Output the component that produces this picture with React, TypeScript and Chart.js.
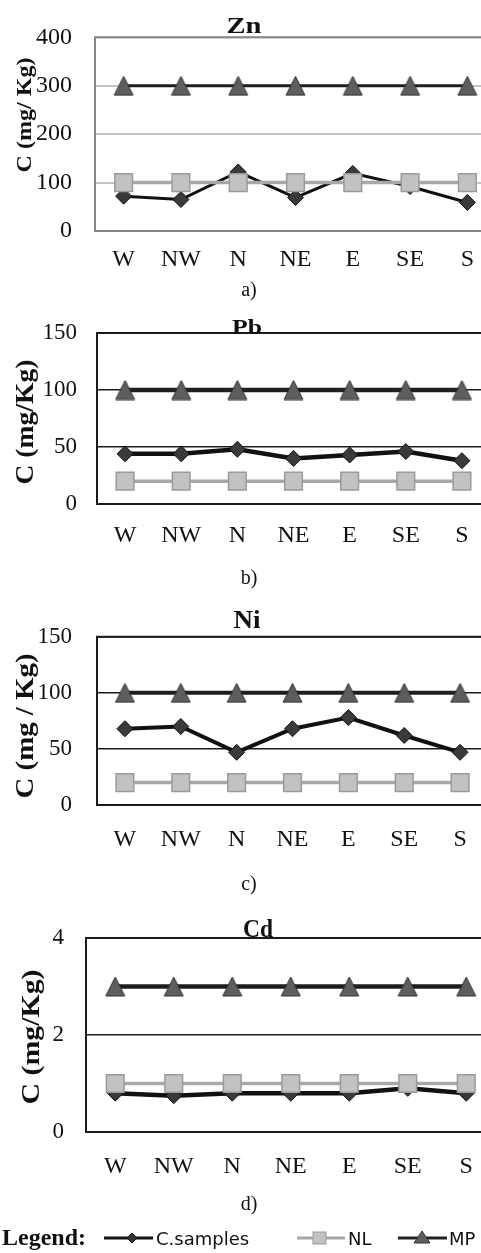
import React, { useEffect, useRef } from "react";
import { Chart, registerables } from "chart.js";

Chart.register(...registerables);

// ---------- data ----------
const directions = ["W", "NW", "N", "NE", "E", "SE", "S"];
const seriesNames = ["C.samples", "NL", "MP"];

const znSamples = [72, 65, 122, 69, 119, 92, 59];
const znNL = [100, 100, 100, 100, 100, 100, 100];
const znMP = [300, 300, 300, 300, 300, 300, 300];
const znTicks = [0, 100, 200, 300, 400];

const pbSamples = [44, 44, 48, 40, 43, 46, 38];
const pbNL = [20, 20, 20, 20, 20, 20, 20];
const pbMP = [100, 100, 100, 100, 100, 100, 100];
const pbTicks = [0, 50, 100, 150];

const niSamples = [68, 70, 47, 68, 78, 62, 47];
const niNL = [20, 20, 20, 20, 20, 20, 20];
const niMP = [100, 100, 100, 100, 100, 100, 100];
const niTicks = [0, 50, 100, 150];

const cdSamples = [0.8, 0.75, 0.8, 0.8, 0.8, 0.9, 0.8];
const cdNL = [1, 1, 1, 1, 1, 1, 1];
const cdMP = [3, 3, 3, 3, 3, 3, 3];
const cdTicks = [0, 2, 4];

// ---------- layout / style ----------
const CANVAS_W = 510;
const SERIF = '"Liberation Serif", "Times New Roman", serif';

type Panel = {
  title: string;
  yTitle: string;
  samples: number[];
  nl: number[];
  mp: number[];
  ticks: number[];
  canvasTop: number;
  canvasHeight: number;
  area: { left: number; top: number; right: number; bottom: number };
  gridColor: string;
  gridWidth: number;
  frameColor: string;
  lineW: number;
  tickSize: number;
  yPad: number;
  xPad: number;
  titleX: number;
  titleBase: number;
  titleSize: number;
  titleWidth: number;
  yTitleX: number;
  yTitleY: number;
  yTitleLen: number;
  yTitleSize: number;
};

const panels: Panel[] = [
  {
    title: "Zn", yTitle: "C (mg/ Kg)", samples: znSamples, nl: znNL, mp: znMP, ticks: znTicks,
    canvasTop: 0, canvasHeight: 278,
    area: { left: 95, top: 34, right: 500, bottom: 231 },
    gridColor: "#c4c4c4", gridWidth: 2, frameColor: "#858585", lineW: 3,
    tickSize: 24, yPad: 23, xPad: 15,
    titleX: 244, titleBase: 33, titleSize: 23, titleWidth: 35,
    yTitleX: 25, yTitleY: 115, yTitleLen: 115, yTitleSize: 22,
  },
  {
    title: "Pb", yTitle: "C (mg/Kg)", samples: pbSamples, nl: pbNL, mp: pbMP, ticks: pbTicks,
    canvasTop: 295, canvasHeight: 262,
    area: { left: 97, top: 333, right: 490, bottom: 504 },
    gridColor: "#1a1a1a", gridWidth: 1.5, frameColor: "#1a1a1a", lineW: 4.5,
    tickSize: 23, yPad: 20, xPad: 18,
    titleX: 247, titleBase: 334, titleSize: 21, titleWidth: 30,
    yTitleX: 27, yTitleY: 422, yTitleLen: 125, yTitleSize: 25,
  },
  {
    title: "Ni", yTitle: "C (mg / Kg)", samples: niSamples, nl: niNL, mp: niMP, ticks: niTicks,
    canvasTop: 598, canvasHeight: 267,
    area: { left: 97, top: 630, right: 488, bottom: 805 },
    gridColor: "#1a1a1a", gridWidth: 1.5, frameColor: "#1a1a1a", lineW: 4,
    tickSize: 23, yPad: 25, xPad: 21,
    titleX: 247, titleBase: 628, titleSize: 25, titleWidth: 27,
    yTitleX: 27, yTitleY: 726, yTitleLen: 145, yTitleSize: 25,
  },
  {
    title: "Cd", yTitle: "C (mg/Kg)", samples: cdSamples, nl: cdNL, mp: cdMP, ticks: cdTicks,
    canvasTop: 900, canvasHeight: 292,
    area: { left: 86, top: 938, right: 496, bottom: 1132 },
    gridColor: "#1a1a1a", gridWidth: 1.5, frameColor: "#1a1a1a", lineW: 4.5,
    tickSize: 23, yPad: 22, xPad: 21,
    titleX: 258, titleBase: 937, titleSize: 25, titleWidth: 30,
    yTitleX: 33, yTitleY: 1037, yTitleLen: 135, yTitleSize: 25,
  },
];

const captions = [
  { text: "a)", y: 296 },
  { text: "b)", y: 584 },
  { text: "c)", y: 890 },
  { text: "d)", y: 1210 },
];

function makeTriangle(): HTMLCanvasElement {
  const c = document.createElement("canvas");
  c.width = 21;
  c.height = 21;
  const g = c.getContext("2d")!;
  g.beginPath();
  g.moveTo(10.5, 1);
  g.lineTo(20, 20);
  g.lineTo(1, 20);
  g.closePath();
  g.fillStyle = "#5e5e5e";
  g.fill();
  g.strokeStyle = "#333";
  g.lineWidth = 1;
  g.stroke();
  return c;
}

function decorPlugin(p: Panel) {
  return {
    id: "decor",
    beforeDatasetsDraw(chart: any) {
      const { ctx, chartArea: a } = chart;
      ctx.save();
      ctx.strokeStyle = p.frameColor;
      ctx.lineWidth = 2;
      ctx.strokeRect(a.left, a.top, a.right - a.left, a.bottom - a.top);
      ctx.restore();
    },
    afterDraw(chart: any) {
      const ctx = chart.ctx as CanvasRenderingContext2D;
      ctx.save();
      ctx.fillStyle = "#111";
      // chart title
      ctx.font = `bold ${p.titleSize}px ${SERIF}`;
      ctx.textAlign = "center";
      ctx.textBaseline = "alphabetic";
      const tw = ctx.measureText(p.title).width;
      ctx.save();
      ctx.translate(p.titleX, p.titleBase - p.canvasTop);
      ctx.scale(p.titleWidth / tw, 1);
      ctx.fillText(p.title, 0, 0);
      ctx.restore();
      // y-axis title
      ctx.font = `bold ${p.yTitleSize}px ${SERIF}`;
      ctx.textBaseline = "middle";
      const w = ctx.measureText(p.yTitle).width;
      ctx.translate(p.yTitleX, p.yTitleY - p.canvasTop);
      ctx.rotate(-Math.PI / 2);
      ctx.scale(p.yTitleLen / w, 1);
      ctx.fillText(p.yTitle, 0, 0);
      ctx.restore();
    },
  };
}

function PanelChart({ p }: { p: Panel }) {
  const ref = useRef<HTMLCanvasElement | null>(null);
  useEffect(() => {
    if (!ref.current) return;
    const tri = makeTriangle();
    const a = p.area;
    const chart = new Chart(ref.current, {
      type: "line",
      data: {
        labels: directions,
        datasets: [
          {
            label: seriesNames[0],
            data: p.samples,
            order: 3,
            borderColor: "#111",
            borderWidth: p.lineW,
            pointStyle: "rectRot",
            pointRadius: 8,
            pointBackgroundColor: "#3a3a3a",
            pointBorderColor: "#111",
            pointBorderWidth: 1,
            tension: 0,
          },
          {
            label: seriesNames[1],
            data: p.nl,
            order: 2,
            borderColor: "#a8a8a8",
            borderWidth: 3.5,
            pointStyle: "rect",
            pointRadius: 12.5,
            pointBackgroundColor: "#c2c2c2",
            pointBorderColor: "#9a9a9a",
            pointBorderWidth: 1.5,
            tension: 0,
          },
          {
            label: seriesNames[2],
            data: p.mp,
            order: 1,
            borderColor: "#1e1e1e",
            borderWidth: p.lineW,
            pointStyle: tri as any,
            pointRadius: 10,
            tension: 0,
          },
        ],
      },
      options: {
        responsive: false,
        maintainAspectRatio: false,
        animation: false,
        events: [],
        layout: {
          padding: { left: 0, right: CANVAS_W - a.right, top: a.top - p.canvasTop, bottom: 0 },
        },
        plugins: {
          legend: { display: false },
          tooltip: { enabled: false },
          title: { display: false },
        },
        scales: {
          x: {
            type: "category",
            offset: true,
            grid: { display: false, drawTicks: false },
            border: { display: false },
            ticks: {
              font: { family: SERIF, size: 24 },
              color: "#111",
              padding: p.xPad - 1,
              maxRotation: 0,
              autoSkip: false,
            },
            afterFit: (s: any) => {
              s.height = p.canvasTop + p.canvasHeight - a.bottom;
            },
          },
          y: {
            min: p.ticks[0],
            max: p.ticks[p.ticks.length - 1],
            ticks: {
              stepSize: p.ticks[1] - p.ticks[0],
              font: { family: SERIF, size: p.tickSize },
              color: "#111",
              padding: p.yPad,
            },
            grid: { color: p.gridColor, lineWidth: p.gridWidth, drawTicks: false },
            border: { display: false },
            afterFit: (s: any) => {
              s.width = a.left;
            },
          },
        },
      },
      plugins: [decorPlugin(p)],
    } as any);
    return () => chart.destroy();
  }, [p]);
  return (
    <canvas
      ref={ref}
      width={CANVAS_W}
      height={p.canvasHeight}
      style={{ position: "absolute", left: 0, top: p.canvasTop, width: CANVAS_W, height: p.canvasHeight }}
    />
  );
}

export default function App() {
  return (
    <div
      style={{
        position: "absolute",
        left: 0,
        top: 0,
        width: 481,
        height: 1253,
        overflow: "hidden",
        background: "#fff",
      }}
    >
      {panels.map((p) => (
        <PanelChart key={p.title} p={p} />
      ))}
      <svg
        width={481}
        height={1253}
        style={{ position: "absolute", left: 0, top: 0, pointerEvents: "none" }}
      >
        {captions.map((c) => (
          <text key={c.text} x={249} y={c.y} textAnchor="middle" fontFamily={SERIF} fontSize={20} fill="#111">
            {c.text}
          </text>
        ))}
        <g transform="translate(0,1225)">
          <text x={2} y={20} fontFamily={SERIF} fontWeight="bold" fontSize={24} fill="#111">
            Legend:
          </text>
          <line x1={104} y1={13} x2={153} y2={13} stroke="#111" strokeWidth={3} />
          <polygon points="132,8 137,13 132,18 127,13" fill="#333" stroke="#111" strokeWidth={1} />
          <text x={156} y={20} fontFamily='"DejaVu Sans", sans-serif' fontSize={18} fill="#111">
            {seriesNames[0]}
          </text>
          <line x1={297} y1={13} x2={345} y2={13} stroke="#a8a8a8" strokeWidth={3} />
          <rect x={313} y={7} width={13} height={12} fill="#c2c2c2" stroke="#9a9a9a" strokeWidth={1} />
          <text x={348} y={20} fontFamily='"DejaVu Sans", sans-serif' fontSize={18} fill="#111">
            {seriesNames[1]}
          </text>
          <line x1={398} y1={13} x2={447} y2={13} stroke="#222" strokeWidth={3} />
          <polygon points="422,6 430,18 414,18" fill="#5e5e5e" stroke="#333" strokeWidth={1} />
          <text x={449} y={20} fontFamily='"DejaVu Sans", sans-serif' fontSize={18} fill="#111">
            {seriesNames[2]}
          </text>
        </g>
      </svg>
    </div>
  );
}
